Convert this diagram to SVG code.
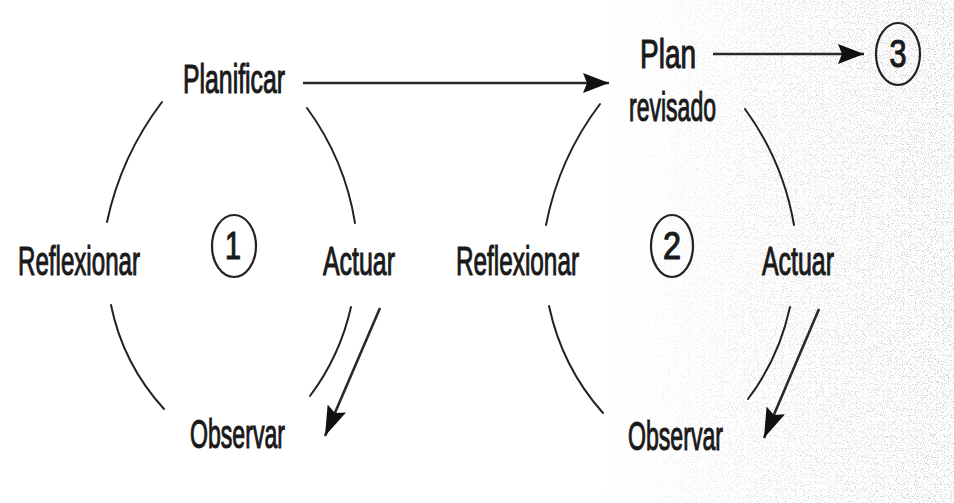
<svg xmlns="http://www.w3.org/2000/svg" width="954" height="503" viewBox="0 0 954 503">
  <style>
    .lbl { font-family: "Liberation Sans", Arial, sans-serif; font-size: 40px; fill: #1a1a1a; stroke: #1a1a1a; stroke-width: 1.1; }
    .num { font-family: "Liberation Sans", Arial, sans-serif; font-size: 38px; fill: #1a1a1a; stroke: #1a1a1a; stroke-width: 1.2; text-anchor: middle; }
    .arc { fill: none; stroke: #222; stroke-width: 2; stroke-linecap: round; }
    .ring { fill: none; stroke: #222; stroke-width: 2.2; }
    .arrow { fill: none; stroke: #2a2a2a; stroke-width: 2.6; }
  </style>
  <defs>
    <marker id="headH" markerUnits="userSpaceOnUse" markerWidth="26" markerHeight="20" refX="26" refY="10" orient="auto">
      <path d="M0,0 L26,10 L0,20 L4,10 z" fill="#111"/>
    </marker>
    <marker id="headD" markerUnits="userSpaceOnUse" markerWidth="30" markerHeight="20" refX="30" refY="10" orient="auto">
      <path d="M0,0 L30,10 L0,20 L5,10 z" fill="#111"/>
    </marker>
    <filter id="speckle" x="0" y="0" width="100%" height="100%">
      <feTurbulence type="fractalNoise" baseFrequency="0.85" numOctaves="2" seed="7" result="t"/>
      <feColorMatrix in="t" type="matrix" values="0 0 0 0 0.4  0 0 0 0 0.4  0 0 0 0 0.4  5 0 0 0 -2.6"/>
    </filter>
    <linearGradient id="fade" x1="0" y1="0" x2="1" y2="0">
      <stop offset="0" stop-color="#fff" stop-opacity="0"/>
      <stop offset="0.45" stop-color="#fff" stop-opacity="0.6"/>
      <stop offset="1" stop-color="#fff" stop-opacity="1"/>
    </linearGradient>
    <mask id="fadeMask">
      <rect x="600" y="0" width="354" height="503" fill="url(#fade)"/>
    </mask>
  </defs>

  <rect x="0" y="0" width="954" height="503" fill="#ffffff"/>
  <g id="background-texture" mask="url(#fadeMask)">
    <rect x="600" y="0" width="354" height="503" filter="url(#speckle)" opacity="0.6"/>
  </g>

  <g id="connectors">
    <!-- cycle 1 arcs -->
    <path class="arc" d="M162,102 Q121,156 107,222"/>
    <path class="arc" d="M307,108 Q345,160 355,223"/>
    <path class="arc" d="M111,305 Q123,364 164,409"/>
    <path class="arc" d="M351,307 Q340,356 310,396"/>
    <!-- cycle 2 arcs -->
    <path class="arc" d="M600,104 Q559,158 546,225"/>
    <path class="arc" d="M745,109 Q783,161 794,225"/>
    <path class="arc" d="M549,306 Q562,367 603,413"/>
    <path class="arc" d="M790,307 Q779,358 748,399"/>
    <!-- arrows -->
    <path class="arrow" d="M303,83 L609,83" marker-end="url(#headH)"/>
    <path class="arrow" d="M713,54 L864,54" marker-end="url(#headH)"/>
    <path class="arrow" d="M380,308 L325,436" marker-end="url(#headD)"/>
    <path class="arrow" d="M819,309 L764,438" marker-end="url(#headD)"/>
  </g>

  <g id="planificar"><text class="lbl" x="183" y="93" textLength="102" lengthAdjust="spacingAndGlyphs">Planificar</text></g>
  <g id="actuar1"><text class="lbl" x="323" y="275" textLength="72" lengthAdjust="spacingAndGlyphs">Actuar</text></g>
  <g id="observar1"><text class="lbl" x="190" y="448" textLength="95" lengthAdjust="spacingAndGlyphs">Observar</text></g>
  <g id="reflexionar1"><text class="lbl" x="18" y="275" textLength="122" lengthAdjust="spacingAndGlyphs">Reflexionar</text></g>
  <g id="ciclo1">
    <ellipse class="ring" cx="234" cy="246" rx="22" ry="31"/>
    <text class="num" x="233" y="259" textLength="16" lengthAdjust="spacingAndGlyphs">1</text>
  </g>

  <g id="plan-revisado">
    <text class="lbl" x="640" y="68" textLength="56" lengthAdjust="spacingAndGlyphs">Plan</text>
    <text class="lbl" x="629" y="121" textLength="87" lengthAdjust="spacingAndGlyphs">revisado</text>
  </g>
  <g id="actuar2"><text class="lbl" x="762" y="275" textLength="72" lengthAdjust="spacingAndGlyphs">Actuar</text></g>
  <g id="observar2"><text class="lbl" x="628" y="450" textLength="95" lengthAdjust="spacingAndGlyphs">Observar</text></g>
  <g id="reflexionar2"><text class="lbl" x="456" y="275" textLength="123" lengthAdjust="spacingAndGlyphs">Reflexionar</text></g>
  <g id="ciclo2">
    <ellipse class="ring" cx="672" cy="246" rx="21" ry="31"/>
    <text class="num" x="672" y="259" textLength="18" lengthAdjust="spacingAndGlyphs">2</text>
  </g>

  <g id="ciclo3">
    <ellipse class="ring" cx="898" cy="54" rx="22" ry="31"/>
    <text class="num" x="898" y="67" textLength="17" lengthAdjust="spacingAndGlyphs">3</text>
  </g>
</svg>
